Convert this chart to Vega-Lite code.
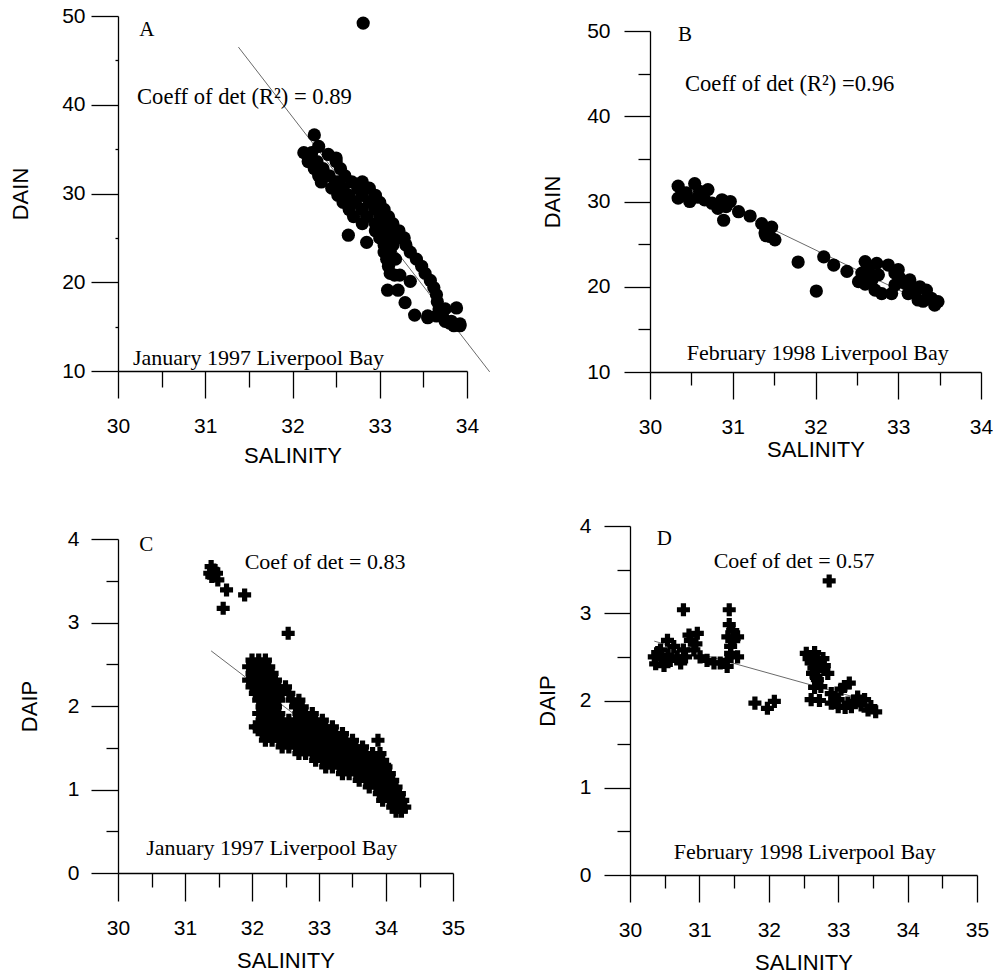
{
  "$schema": "https://vega.github.io/schema/vega-lite/v6.json",
  "padding": {"left": 9, "top": 5, "right": 0, "bottom": 0},
  "config": {
    "view": {"stroke": null},
    "axis": {"domainColor": "black", "domainWidth": 1.3, "tickColor": "black", "tickWidth": 1.3, "labelColor": "black", "labelFont": "Liberation Sans", "labelFontSize": 21, "titleFont": "Liberation Sans", "titleFontSize": 22, "titleFontWeight": "normal", "titleColor": "black", "grid": false, "labelFlush": false, "labelOverlap": false, "labelBound": false},
    "text": {"font": "Liberation Serif", "fontSize": 22, "color": "black"}
  },
  "datasets": {
    "lineA": [{"sal": 31.38, "v": 46.5}, {"sal": 34.26, "v": 9.9}],
    "lineB": [{"sal": 30.4, "v": 31.8}, {"sal": 33.5, "v": 17.3}],
    "lineC": [{"sal": 31.39, "v": 2.66}, {"sal": 34.3, "v": 0.88}],
    "lineD": [{"sal": 30.35, "v": 2.68}, {"sal": 33.5, "v": 1.98}],
    "A": [
      {"sal": 32.81, "v": 49.2}, {"sal": 32.25, "v": 36.6}, {"sal": 32.30, "v": 35.3}, {"sal": 32.13, "v": 34.6}, {"sal": 32.22, "v": 34.6}, {"sal": 32.41, "v": 34.4}, {"sal": 32.50, "v": 34.0},
      {"sal": 32.18, "v": 33.6}, {"sal": 32.28, "v": 33.6}, {"sal": 32.50, "v": 33.6},
      {"sal": 32.25, "v": 32.8}, {"sal": 32.35, "v": 32.8}, {"sal": 32.55, "v": 32.8},
      {"sal": 32.30, "v": 32.0}, {"sal": 32.42, "v": 32.0}, {"sal": 32.60, "v": 32.0},
      {"sal": 32.33, "v": 31.3}, {"sal": 32.50, "v": 31.3}, {"sal": 32.68, "v": 31.3}, {"sal": 32.80, "v": 31.3},
      {"sal": 32.45, "v": 30.6}, {"sal": 32.58, "v": 30.6}, {"sal": 32.75, "v": 30.6}, {"sal": 32.88, "v": 30.6},
      {"sal": 32.52, "v": 29.8}, {"sal": 32.65, "v": 29.8}, {"sal": 32.80, "v": 29.8}, {"sal": 32.95, "v": 29.8},
      {"sal": 32.58, "v": 29.0}, {"sal": 32.72, "v": 29.0}, {"sal": 32.88, "v": 29.0}, {"sal": 33.00, "v": 29.0},
      {"sal": 32.65, "v": 28.2}, {"sal": 32.80, "v": 28.2}, {"sal": 32.95, "v": 28.2}, {"sal": 33.05, "v": 28.2},
      {"sal": 32.70, "v": 27.4}, {"sal": 32.85, "v": 27.4}, {"sal": 33.00, "v": 27.4}, {"sal": 33.10, "v": 27.4},
      {"sal": 32.80, "v": 26.6}, {"sal": 32.95, "v": 26.6}, {"sal": 33.08, "v": 26.6}, {"sal": 33.15, "v": 26.6},
      {"sal": 32.95, "v": 25.8}, {"sal": 33.05, "v": 25.8}, {"sal": 33.15, "v": 25.8}, {"sal": 33.22, "v": 25.8},
      {"sal": 33.00, "v": 25.0}, {"sal": 33.10, "v": 25.0}, {"sal": 33.22, "v": 25.0}, {"sal": 33.28, "v": 25.0},
      {"sal": 33.05, "v": 24.2}, {"sal": 33.15, "v": 24.2}, {"sal": 33.30, "v": 24.2},
      {"sal": 33.05, "v": 23.4}, {"sal": 33.12, "v": 23.4}, {"sal": 33.35, "v": 23.4},
      {"sal": 33.08, "v": 22.6}, {"sal": 33.18, "v": 22.6}, {"sal": 33.42, "v": 22.6},
      {"sal": 33.10, "v": 21.8}, {"sal": 33.48, "v": 21.8}, {"sal": 33.12, "v": 21.0}, {"sal": 33.52, "v": 21.0},
      {"sal": 33.58, "v": 20.2}, {"sal": 33.62, "v": 19.4}, {"sal": 33.65, "v": 18.6}, {"sal": 33.66, "v": 17.8},
      {"sal": 33.68, "v": 17.0}, {"sal": 33.75, "v": 17.0}, {"sal": 33.55, "v": 16.2}, {"sal": 33.65, "v": 16.2}, {"sal": 33.72, "v": 16.2},
      {"sal": 33.75, "v": 15.6}, {"sal": 33.82, "v": 15.6}, {"sal": 33.85, "v": 15.1}, {"sal": 33.92, "v": 15.1},
      {"sal": 32.64, "v": 25.3}, {"sal": 32.85, "v": 24.5}, {"sal": 33.09, "v": 19.1}, {"sal": 33.21, "v": 19.1}, {"sal": 33.29, "v": 17.7},
      {"sal": 33.35, "v": 20.1}, {"sal": 33.23, "v": 20.8}, {"sal": 33.17, "v": 20.8}, {"sal": 33.40, "v": 16.3}, {"sal": 33.55, "v": 16.0},
      {"sal": 33.88, "v": 17.1}, {"sal": 33.92, "v": 15.3}, {"sal": 33.80, "v": 15.4}
    ],
    "B": [
      {"sal": 30.34, "v": 31.8}, {"sal": 30.54, "v": 32.1}, {"sal": 30.34, "v": 30.4}, {"sal": 30.48, "v": 30.0}, {"sal": 30.44, "v": 31.0},
      {"sal": 30.60, "v": 31.2}, {"sal": 30.70, "v": 31.4}, {"sal": 30.75, "v": 29.8}, {"sal": 30.66, "v": 30.2}, {"sal": 30.87, "v": 30.2},
      {"sal": 30.97, "v": 30.0}, {"sal": 30.89, "v": 27.8}, {"sal": 30.82, "v": 29.2}, {"sal": 31.07, "v": 28.8}, {"sal": 31.21, "v": 28.3},
      {"sal": 31.35, "v": 27.4}, {"sal": 31.43, "v": 26.7}, {"sal": 31.45, "v": 25.9}, {"sal": 31.51, "v": 25.5}, {"sal": 31.39, "v": 26.3},
      {"sal": 31.47, "v": 27.0}, {"sal": 31.40, "v": 26.0}, {"sal": 30.92, "v": 29.4}, {"sal": 30.40, "v": 30.8}, {"sal": 30.58, "v": 30.5},
      {"sal": 31.79, "v": 22.9}, {"sal": 32.01, "v": 19.5}, {"sal": 32.10, "v": 23.5}, {"sal": 32.22, "v": 22.55}, {"sal": 32.38, "v": 21.8},
      {"sal": 32.60, "v": 22.95}, {"sal": 32.74, "v": 22.75}, {"sal": 32.88, "v": 22.55}, {"sal": 32.52, "v": 20.6}, {"sal": 32.68, "v": 20.8},
      {"sal": 32.72, "v": 19.6}, {"sal": 32.80, "v": 19.2}, {"sal": 32.92, "v": 19.2}, {"sal": 33.00, "v": 22.0}, {"sal": 33.08, "v": 20.4},
      {"sal": 33.14, "v": 20.8}, {"sal": 33.12, "v": 19.2}, {"sal": 33.26, "v": 20.0}, {"sal": 33.24, "v": 18.45}, {"sal": 33.40, "v": 18.65},
      {"sal": 33.48, "v": 18.25}, {"sal": 33.44, "v": 17.85}, {"sal": 32.56, "v": 21.6}, {"sal": 32.76, "v": 21.4}, {"sal": 32.64, "v": 22.0},
      {"sal": 32.96, "v": 21.6}, {"sal": 33.20, "v": 19.2}, {"sal": 33.34, "v": 19.6}, {"sal": 33.02, "v": 21.0}, {"sal": 32.96, "v": 20.2},
      {"sal": 33.30, "v": 18.3}, {"sal": 33.18, "v": 19.8}, {"sal": 32.60, "v": 20.3}
    ],
    "C": [
      {"sal": 31.39, "v": 3.67}, {"sal": 31.37, "v": 3.59}, {"sal": 31.47, "v": 3.59}, {"sal": 31.43, "v": 3.63}, {"sal": 31.49, "v": 3.51},
      {"sal": 31.40, "v": 3.55}, {"sal": 31.62, "v": 3.39}, {"sal": 31.89, "v": 3.33}, {"sal": 31.57, "v": 3.17}, {"sal": 32.54, "v": 2.87},
      {"sal": 33.88, "v": 1.59}, {"sal": 33.91, "v": 1.43}, {"sal": 33.98, "v": 1.29},
      {"sal": 32.00, "v": 2.55}, {"sal": 32.10, "v": 2.55}, {"sal": 32.20, "v": 2.55},
      {"sal": 31.95, "v": 2.47}, {"sal": 32.05, "v": 2.47}, {"sal": 32.15, "v": 2.47}, {"sal": 32.25, "v": 2.47},
      {"sal": 32.00, "v": 2.39}, {"sal": 32.10, "v": 2.39}, {"sal": 32.20, "v": 2.39}, {"sal": 32.30, "v": 2.39},
      {"sal": 31.95, "v": 2.31}, {"sal": 32.05, "v": 2.31}, {"sal": 32.15, "v": 2.31}, {"sal": 32.25, "v": 2.31}, {"sal": 32.35, "v": 2.31},
      {"sal": 32.00, "v": 2.23}, {"sal": 32.10, "v": 2.23}, {"sal": 32.20, "v": 2.23}, {"sal": 32.30, "v": 2.23}, {"sal": 32.40, "v": 2.23}, {"sal": 32.50, "v": 2.23},
      {"sal": 32.05, "v": 2.15}, {"sal": 32.15, "v": 2.15}, {"sal": 32.25, "v": 2.15}, {"sal": 32.35, "v": 2.15}, {"sal": 32.45, "v": 2.15}, {"sal": 32.55, "v": 2.15},
      {"sal": 32.10, "v": 2.07}, {"sal": 32.20, "v": 2.07}, {"sal": 32.30, "v": 2.07}, {"sal": 32.40, "v": 2.07}, {"sal": 32.60, "v": 2.07}, {"sal": 32.70, "v": 2.07},
      {"sal": 32.15, "v": 1.99}, {"sal": 32.25, "v": 1.99}, {"sal": 32.35, "v": 1.99}, {"sal": 32.65, "v": 1.99}, {"sal": 32.75, "v": 1.99},
      {"sal": 32.10, "v": 1.91}, {"sal": 32.20, "v": 1.91}, {"sal": 32.30, "v": 1.91}, {"sal": 32.40, "v": 1.91}, {"sal": 32.70, "v": 1.91}, {"sal": 32.80, "v": 1.91}, {"sal": 32.90, "v": 1.91},
      {"sal": 32.15, "v": 1.83}, {"sal": 32.25, "v": 1.83}, {"sal": 32.35, "v": 1.83}, {"sal": 32.45, "v": 1.83}, {"sal": 32.55, "v": 1.83}, {"sal": 32.65, "v": 1.83}, {"sal": 32.75, "v": 1.83}, {"sal": 32.85, "v": 1.83}, {"sal": 32.95, "v": 1.83}, {"sal": 33.05, "v": 1.83},
      {"sal": 32.05, "v": 1.75}, {"sal": 32.10, "v": 1.75}, {"sal": 32.20, "v": 1.75}, {"sal": 32.30, "v": 1.75}, {"sal": 32.40, "v": 1.75}, {"sal": 32.50, "v": 1.75}, {"sal": 32.60, "v": 1.75}, {"sal": 32.70, "v": 1.75}, {"sal": 32.80, "v": 1.75}, {"sal": 32.90, "v": 1.75}, {"sal": 33.00, "v": 1.75}, {"sal": 33.10, "v": 1.75}, {"sal": 33.20, "v": 1.75},
      {"sal": 32.15, "v": 1.67}, {"sal": 32.25, "v": 1.67}, {"sal": 32.35, "v": 1.67}, {"sal": 32.45, "v": 1.67}, {"sal": 32.55, "v": 1.67}, {"sal": 32.65, "v": 1.67}, {"sal": 32.75, "v": 1.67}, {"sal": 32.85, "v": 1.67}, {"sal": 32.95, "v": 1.67}, {"sal": 33.05, "v": 1.67}, {"sal": 33.15, "v": 1.67}, {"sal": 33.25, "v": 1.67}, {"sal": 33.35, "v": 1.67},
      {"sal": 32.20, "v": 1.59}, {"sal": 32.30, "v": 1.59}, {"sal": 32.40, "v": 1.59}, {"sal": 32.50, "v": 1.59}, {"sal": 32.60, "v": 1.59}, {"sal": 32.70, "v": 1.59}, {"sal": 32.80, "v": 1.59}, {"sal": 32.90, "v": 1.59}, {"sal": 33.00, "v": 1.59}, {"sal": 33.10, "v": 1.59}, {"sal": 33.20, "v": 1.59}, {"sal": 33.30, "v": 1.59}, {"sal": 33.40, "v": 1.59}, {"sal": 33.50, "v": 1.59},
      {"sal": 32.45, "v": 1.51}, {"sal": 32.55, "v": 1.51}, {"sal": 32.65, "v": 1.51}, {"sal": 32.75, "v": 1.51}, {"sal": 32.85, "v": 1.51}, {"sal": 32.95, "v": 1.51}, {"sal": 33.05, "v": 1.51}, {"sal": 33.15, "v": 1.51}, {"sal": 33.25, "v": 1.51}, {"sal": 33.35, "v": 1.51}, {"sal": 33.45, "v": 1.51}, {"sal": 33.55, "v": 1.51}, {"sal": 33.65, "v": 1.51},
      {"sal": 32.70, "v": 1.43}, {"sal": 32.80, "v": 1.43}, {"sal": 32.90, "v": 1.43}, {"sal": 33.00, "v": 1.43}, {"sal": 33.10, "v": 1.43}, {"sal": 33.20, "v": 1.43}, {"sal": 33.30, "v": 1.43}, {"sal": 33.40, "v": 1.43}, {"sal": 33.50, "v": 1.43}, {"sal": 33.60, "v": 1.43}, {"sal": 33.70, "v": 1.43}, {"sal": 33.80, "v": 1.43},
      {"sal": 32.95, "v": 1.35}, {"sal": 33.05, "v": 1.35}, {"sal": 33.15, "v": 1.35}, {"sal": 33.25, "v": 1.35}, {"sal": 33.35, "v": 1.35}, {"sal": 33.45, "v": 1.35}, {"sal": 33.55, "v": 1.35}, {"sal": 33.65, "v": 1.35}, {"sal": 33.75, "v": 1.35}, {"sal": 33.85, "v": 1.35}, {"sal": 33.95, "v": 1.35},
      {"sal": 33.10, "v": 1.27}, {"sal": 33.20, "v": 1.27}, {"sal": 33.30, "v": 1.27}, {"sal": 33.40, "v": 1.27}, {"sal": 33.50, "v": 1.27}, {"sal": 33.60, "v": 1.27}, {"sal": 33.70, "v": 1.27}, {"sal": 33.80, "v": 1.27}, {"sal": 33.90, "v": 1.27}, {"sal": 34.00, "v": 1.27},
      {"sal": 33.35, "v": 1.19}, {"sal": 33.45, "v": 1.19}, {"sal": 33.55, "v": 1.19}, {"sal": 33.65, "v": 1.19}, {"sal": 33.75, "v": 1.19}, {"sal": 33.85, "v": 1.19}, {"sal": 33.95, "v": 1.19}, {"sal": 34.05, "v": 1.19},
      {"sal": 33.60, "v": 1.11}, {"sal": 33.70, "v": 1.11}, {"sal": 33.80, "v": 1.11}, {"sal": 33.90, "v": 1.11}, {"sal": 34.00, "v": 1.11}, {"sal": 34.10, "v": 1.11},
      {"sal": 33.75, "v": 1.03}, {"sal": 33.85, "v": 1.03}, {"sal": 33.95, "v": 1.03}, {"sal": 34.05, "v": 1.03}, {"sal": 34.15, "v": 1.03},
      {"sal": 33.90, "v": 0.95}, {"sal": 34.00, "v": 0.95}, {"sal": 34.10, "v": 0.95}, {"sal": 34.20, "v": 0.95},
      {"sal": 33.95, "v": 0.87}, {"sal": 34.05, "v": 0.87}, {"sal": 34.15, "v": 0.87}, {"sal": 34.25, "v": 0.87},
      {"sal": 34.10, "v": 0.79}, {"sal": 34.20, "v": 0.79}, {"sal": 34.28, "v": 0.79}, {"sal": 34.15, "v": 0.74}, {"sal": 34.23, "v": 0.74}
    ],
    "D": [
      {"sal": 32.87, "v": 3.37}, {"sal": 30.77, "v": 3.04}, {"sal": 31.43, "v": 3.04}, {"sal": 31.80, "v": 1.97}, {"sal": 31.98, "v": 1.91}, {"sal": 32.08, "v": 1.99},
      {"sal": 30.35, "v": 2.50}, {"sal": 30.44, "v": 2.58}, {"sal": 30.54, "v": 2.69}, {"sal": 30.58, "v": 2.46}, {"sal": 30.37, "v": 2.42}, {"sal": 30.49, "v": 2.40},
      {"sal": 30.68, "v": 2.50}, {"sal": 30.77, "v": 2.58}, {"sal": 30.87, "v": 2.69}, {"sal": 30.97, "v": 2.77}, {"sal": 30.92, "v": 2.58}, {"sal": 31.01, "v": 2.50},
      {"sal": 31.11, "v": 2.46}, {"sal": 31.21, "v": 2.43}, {"sal": 30.73, "v": 2.43}, {"sal": 30.63, "v": 2.62}, {"sal": 30.85, "v": 2.75}, {"sal": 30.45, "v": 2.48},
      {"sal": 30.55, "v": 2.52}, {"sal": 30.80, "v": 2.50}, {"sal": 31.30, "v": 2.43}, {"sal": 31.40, "v": 2.46}, {"sal": 30.40, "v": 2.55}, {"sal": 30.95, "v": 2.65},
      {"sal": 31.43, "v": 2.87}, {"sal": 31.41, "v": 2.73}, {"sal": 31.50, "v": 2.71}, {"sal": 31.45, "v": 2.62}, {"sal": 31.55, "v": 2.73}, {"sal": 31.45, "v": 2.54},
      {"sal": 31.55, "v": 2.50}, {"sal": 31.40, "v": 2.39}, {"sal": 31.48, "v": 2.80},
      {"sal": 32.54, "v": 2.54}, {"sal": 32.66, "v": 2.55}, {"sal": 32.78, "v": 2.48}, {"sal": 32.61, "v": 2.43}, {"sal": 32.73, "v": 2.39}, {"sal": 32.85, "v": 2.31},
      {"sal": 32.63, "v": 2.31}, {"sal": 32.70, "v": 2.24}, {"sal": 32.66, "v": 2.15}, {"sal": 32.75, "v": 2.16}, {"sal": 32.61, "v": 2.01}, {"sal": 32.73, "v": 2.00},
      {"sal": 32.58, "v": 2.48}, {"sal": 32.70, "v": 2.45}, {"sal": 32.65, "v": 2.37}, {"sal": 32.80, "v": 2.40}, {"sal": 32.68, "v": 2.28},
      {"sal": 32.90, "v": 2.08}, {"sal": 33.09, "v": 2.16}, {"sal": 33.16, "v": 2.20}, {"sal": 33.00, "v": 2.01}, {"sal": 33.14, "v": 1.97}, {"sal": 33.28, "v": 2.04},
      {"sal": 33.38, "v": 2.01}, {"sal": 33.47, "v": 1.93}, {"sal": 33.54, "v": 1.87}, {"sal": 33.00, "v": 1.93}, {"sal": 33.19, "v": 1.93}, {"sal": 33.33, "v": 1.95},
      {"sal": 32.90, "v": 1.97}, {"sal": 33.43, "v": 1.89}, {"sal": 33.04, "v": 2.13}, {"sal": 33.22, "v": 1.99}, {"sal": 33.10, "v": 1.92}, {"sal": 32.95, "v": 2.02}
    ]
  },
  "spacing": 49,
  "vconcat": [
    {
      "align": "none",
      "spacing": 49,
      "concat": [
        {
          "width": 349, "height": 355,
          "resolve": {"axis": {"x": "independent", "y": "independent"}},
          "layer": [
            {"data": {"name": "lineA"}, "mark": {"type": "line", "color": "#444", "strokeWidth": 0.8, "clip": false},
             "encoding": {
               "x": {"field": "sal", "type": "quantitative", "title": "SALINITY", "scale": {"domain": [30, 34], "nice": false, "zero": false},
                     "axis": {"orient": "bottom", "values": [30, 31, 32, 33, 34], "format": "d", "tickSize": 27, "labelPadding": 17, "titlePadding": 9}},
               "y": {"field": "v", "type": "quantitative", "title": "DAIN", "scale": {"domain": [10, 50], "nice": false, "zero": false},
                     "axis": {"orient": "left", "values": [10, 20, 30, 40, 50], "format": "d", "tickSize": 27, "labelPadding": 6, "titlePadding": 29}}
             }},
            {"data": {"name": "A"}, "mark": {"type": "point", "shape": "circle", "filled": true, "color": "black", "opacity": 1, "size": 175},
             "encoding": {
               "x": {"field": "sal", "type": "quantitative", "axis": {"orient": "bottom", "values": [30.5, 31.5, 32.5, 33.5], "tickSize": 16, "labels": false, "domain": false, "title": null}},
               "y": {"field": "v", "type": "quantitative", "axis": {"orient": "left", "values": [15, 25, 35, 45], "tickSize": 3, "labels": false, "domain": false, "title": null}}
             }},
            {"data": {"values": [{}]}, "mark": {"type": "text", "align": "center", "baseline": "middle", "fontSize": 21}, "encoding": {"x": {"datum": 30.33, "type": "quantitative", "axis": null}, "y": {"datum": 48.42, "type": "quantitative", "axis": null}, "text": {"value": "A"}}},
            {"data": {"values": [{}]}, "mark": {"type": "text", "align": "left", "baseline": "middle", "fontSize": 22.6}, "encoding": {"x": {"datum": 30.218, "type": "quantitative", "axis": null}, "y": {"datum": 40.91, "type": "quantitative", "axis": null}, "text": {"value": "Coeff of det (R²) = 0.89"}}},
            {"data": {"values": [{}]}, "mark": {"type": "text", "align": "left", "baseline": "middle"}, "encoding": {"x": {"datum": 30.172, "type": "quantitative", "axis": null}, "y": {"datum": 11.47, "type": "quantitative", "axis": null}, "text": {"value": "January 1997 Liverpool Bay"}}}
          ]
        },
        {
          "width": 331, "height": 356,
          "resolve": {"axis": {"x": "independent", "y": "independent"}},
          "layer": [
            {"data": {"name": "lineB"}, "mark": {"type": "line", "color": "#444", "strokeWidth": 0.8, "clip": false},
             "encoding": {
               "x": {"field": "sal", "type": "quantitative", "title": "SALINITY", "scale": {"domain": [30, 34], "nice": false, "zero": false},
                     "axis": {"orient": "bottom", "values": [30, 31, 32, 33, 34], "format": "d", "tickSize": 27, "labelPadding": 17, "titlePadding": 2}},
               "y": {"field": "v", "type": "quantitative", "title": "DAIN", "scale": {"domain": [10, 50], "nice": false, "zero": false, "range": [356, 15]},
                     "axis": {"orient": "left", "values": [10, 20, 30, 40, 50], "format": "d", "tickSize": 26, "labelPadding": 14, "titlePadding": 22}}
             }},
            {"data": {"name": "B"}, "mark": {"type": "point", "shape": "circle", "filled": true, "color": "black", "opacity": 1, "size": 175},
             "encoding": {
               "x": {"field": "sal", "type": "quantitative", "axis": {"orient": "bottom", "values": [30.5, 31.5, 32.5, 33.5], "tickSize": 13, "labels": false, "domain": false, "title": null}},
               "y": {"field": "v", "type": "quantitative", "axis": {"orient": "left", "values": [15, 25, 35, 45], "tickSize": 12, "labels": false, "domain": false, "title": null}}
             }},
            {"data": {"values": [{}]}, "mark": {"type": "text", "align": "center", "baseline": "middle", "fontSize": 21}, "encoding": {"x": {"datum": 30.423, "type": "quantitative", "axis": null}, "y": {"datum": 49.53, "type": "quantitative", "axis": null}, "text": {"value": "B"}}},
            {"data": {"values": [{}]}, "mark": {"type": "text", "align": "left", "baseline": "middle", "fontSize": 22.6}, "encoding": {"x": {"datum": 30.423, "type": "quantitative", "axis": null}, "y": {"datum": 43.78, "type": "quantitative", "axis": null}, "text": {"value": "Coeff of det (R²) =0.96"}}},
            {"data": {"values": [{}]}, "mark": {"type": "text", "align": "left", "baseline": "middle"}, "encoding": {"x": {"datum": 30.443, "type": "quantitative", "axis": null}, "y": {"datum": 12.19, "type": "quantitative", "axis": null}, "text": {"value": "February 1998 Liverpool Bay"}}}
          ]
        }
      ]
    },
    {
      "align": "none",
      "spacing": 71,
      "concat": [
        {
          "width": 335, "height": 347,
          "resolve": {"axis": {"x": "independent", "y": "independent"}},
          "layer": [
            {"data": {"name": "lineC"}, "mark": {"type": "line", "color": "#444", "strokeWidth": 0.8, "clip": false},
             "encoding": {
               "x": {"field": "sal", "type": "quantitative", "title": "SALINITY", "scale": {"domain": [30, 35], "nice": false, "zero": false},
                     "axis": {"orient": "bottom", "values": [30, 31, 32, 33, 34, 35], "format": "d", "tickSize": 28, "labelPadding": 16, "titlePadding": 12}},
               "y": {"field": "v", "type": "quantitative", "title": "DAIP", "scale": {"domain": [0, 4], "nice": false, "zero": false, "range": [347, 13]},
                     "axis": {"orient": "left", "values": [0, 1, 2, 3, 4], "format": "d", "tickSize": 27, "labelPadding": 12, "titlePadding": 26}}
             }},
            {"data": {"name": "C"}, "mark": {"type": "point", "shape": "cross", "filled": true, "color": "black", "opacity": 1, "size": 170},
             "encoding": {
               "x": {"field": "sal", "type": "quantitative", "axis": {"orient": "bottom", "values": [30.5, 31.5, 32.5, 33.5, 34.5], "tickSize": 14, "labels": false, "domain": false, "title": null}},
               "y": {"field": "v", "type": "quantitative", "axis": {"orient": "left", "values": [0.5, 1.5, 2.5, 3.5], "tickSize": 12, "labels": false, "domain": false, "title": null}}
             }},
            {"data": {"values": [{}]}, "mark": {"type": "text", "align": "center", "baseline": "middle", "fontSize": 21}, "encoding": {"x": {"datum": 30.42, "type": "quantitative", "axis": null}, "y": {"datum": 3.928, "type": "quantitative", "axis": null}, "text": {"value": "C"}}},
            {"data": {"values": [{}]}, "mark": {"type": "text", "align": "left", "baseline": "middle"}, "encoding": {"x": {"datum": 31.89, "type": "quantitative", "axis": null}, "y": {"datum": 3.728, "type": "quantitative", "axis": null}, "text": {"value": "Coef of det = 0.83"}}},
            {"data": {"values": [{}]}, "mark": {"type": "text", "align": "left", "baseline": "middle"}, "encoding": {"x": {"datum": 30.42, "type": "quantitative", "axis": null}, "y": {"datum": 0.296, "type": "quantitative", "axis": null}, "text": {"value": "January 1997 Liverpool Bay"}}}
          ]
        },
        {
          "width": 347, "height": 349,
          "resolve": {"axis": {"x": "independent", "y": "independent"}},
          "layer": [
            {"data": {"name": "lineD"}, "mark": {"type": "line", "color": "#444", "strokeWidth": 0.8, "clip": false},
             "encoding": {
               "x": {"field": "sal", "type": "quantitative", "title": "SALINITY", "scale": {"domain": [30, 35], "nice": false, "zero": false},
                     "axis": {"orient": "bottom", "values": [30, 31, 32, 33, 34, 35], "format": "d", "tickSize": 27, "labelPadding": 17, "titlePadding": 12}},
               "y": {"field": "v", "type": "quantitative", "title": "DAIP", "scale": {"domain": [0, 4], "nice": false, "zero": false},
                     "axis": {"orient": "left", "values": [0, 1, 2, 3, 4], "format": "d", "tickSize": 26, "labelPadding": 13, "titlePadding": 20}}
             }},
            {"data": {"name": "D"}, "mark": {"type": "point", "shape": "cross", "filled": true, "color": "black", "opacity": 1, "size": 170},
             "encoding": {
               "x": {"field": "sal", "type": "quantitative", "axis": {"orient": "bottom", "values": [30.5, 31.5, 32.5, 33.5, 34.5], "tickSize": 13, "labels": false, "domain": false, "title": null}},
               "y": {"field": "v", "type": "quantitative", "axis": {"orient": "left", "values": [0.5, 1.5, 2.5, 3.5], "tickSize": 13, "labels": false, "domain": false, "title": null}}
             }},
            {"data": {"values": [{}]}, "mark": {"type": "text", "align": "center", "baseline": "middle", "fontSize": 21}, "encoding": {"x": {"datum": 30.494, "type": "quantitative", "axis": null}, "y": {"datum": 3.848, "type": "quantitative", "axis": null}, "text": {"value": "D"}}},
            {"data": {"values": [{}]}, "mark": {"type": "text", "align": "left", "baseline": "middle"}, "encoding": {"x": {"datum": 31.206, "type": "quantitative", "axis": null}, "y": {"datum": 3.599, "type": "quantitative", "axis": null}, "text": {"value": "Coef of det = 0.57"}}},
            {"data": {"values": [{}]}, "mark": {"type": "text", "align": "left", "baseline": "middle"}, "encoding": {"x": {"datum": 30.63, "type": "quantitative", "axis": null}, "y": {"datum": 0.267, "type": "quantitative", "axis": null}, "text": {"value": "February 1998 Liverpool Bay"}}}
          ]
        }
      ]
    }
  ]
}
